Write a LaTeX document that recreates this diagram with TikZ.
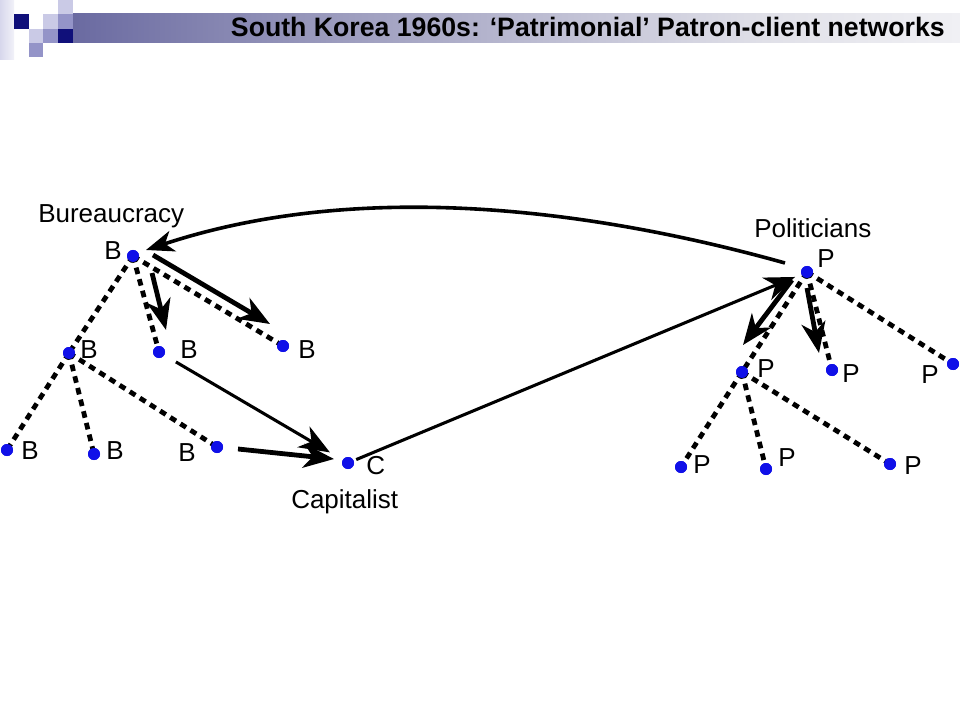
\documentclass[tikz,border=0pt]{standalone}
\usepackage{fontspec}
\setmainfont{Liberation Sans}
\usetikzlibrary{arrows.meta}
\definecolor{navy}{HTML}{1C1C78}
\definecolor{barmid}{HTML}{46468C}
\definecolor{barlight}{HTML}{9C9CBE}
\definecolor{barpale}{HTML}{E0E0E8}
\definecolor{sqdark}{HTML}{10107A}
\definecolor{sqlight}{HTML}{CACAE6}
\definecolor{sqmid}{HTML}{9494C8}
\definecolor{dotblue}{HTML}{1010E8}
\pgfdeclarehorizontalshading{titlebar}{100bp}{color(0bp)=(navy); color(14bp)=(barmid); color(40bp)=(barlight); color(64bp)=(barpale); color(85bp)=(white); color(100bp)=(white)}
\pgfdeclarehorizontalshading{leftstrip}{100bp}{color(0bp)=(sqlight); color(100bp)=(white)}
\tikzset{
  dot/.style={circle,fill=dotblue,draw=none,minimum size=9pt,inner sep=0pt},
  lbl/.style={font=\fontsize{19.5pt}{21pt}\selectfont,inner sep=0pt,anchor=base west},
  dashline/.style={line width=3.6pt,dash pattern=on 5pt off 4pt},
  bigarrow/.style={line width=3.6pt,-{Stealth[length=23pt,width=18pt,inset=7pt]}},
  thinarrow/.style={line width=2.3pt,-{Stealth[length=23pt,width=18pt,inset=7pt]}},
  curvearrow/.style={line width=2.7pt,-{Stealth[length=21pt,width=16pt,inset=6pt]}}
}
\begin{document}
\begin{tikzpicture}[x=0.75pt,y=-0.75pt]
\useasboundingbox (0,0) rectangle (960,720);
\fill[white] (0,0) rectangle (960,720);
% logo
\shade[shading=leftstrip] (0,0) rectangle (14,60);
\fill[sqdark] (14,14) rectangle (29,29);
\fill[sqlight] (43,14) rectangle (58,29);
\fill[sqlight] (58,0) rectangle (73,14);
\fill[sqmid] (58,14) rectangle (73,29);
\fill[sqlight] (29,29) rectangle (43,43);
\fill[sqmid] (43,29) rectangle (58,43);
\fill[sqdark] (58,29) rectangle (73,43);
\fill[sqmid] (29,43) rectangle (43,57);
% title bar
\shade[shading=titlebar] (73,14) rectangle (960,43);
\node[font=\bfseries\fontsize{20pt}{22pt}\selectfont,anchor=base east,inner sep=0pt] (title) at (945,37) {South Korea 1960s: ‘Patrimonial’ Patron-client networks};

% dots
\node[dot] (B0) at (133,256) {};
\node[dot] (B1) at (69,353) {};
\node[dot] (B2) at (159,352) {};
\node[dot] (B3) at (283,346) {};
\node[dot] (B4) at (7,450) {};
\node[dot] (B5) at (94,454) {};
\node[dot] (B6) at (217,447) {};
\node[dot] (C) at (348,463) {};
\node[dot] (P0) at (807,272) {};
\node[dot] (P1) at (742,372) {};
\node[dot] (P2) at (832,370) {};
\node[dot] (P3) at (953,364) {};
\node[dot] (P4) at (681,467) {};
\node[dot] (P5) at (766,469) {};
\node[dot] (P6) at (890,464) {};

% dashed tree lines
\draw[dashline] (B0.center) -- (B1.center);
\draw[dashline] (B0.center) -- (B2.center);
\draw[dashline] (B0.center) -- (B3.center);
\draw[dashline] (B1.center) -- (B4.center);
\draw[dashline] (B1.center) -- (B5.center);
\draw[dashline] (B1.center) -- (B6.center);
\draw[dashline] (P0.center) -- (P1.center);
\draw[dashline] (P0.center) -- (P2.center);
\draw[dashline] (P0.center) -- (P3.center);
\draw[dashline] (P1.center) -- (P4.center);
\draw[dashline] (P1.center) -- (P5.center);
\draw[dashline] (P1.center) -- (P6.center);

% redraw dots on top
\foreach \n in {B0,B1,B2,B3,B4,B5,B6,C,P0,P1,P2,P3,P4,P5,P6}
  \fill[dotblue] (\n.center) circle (4.5pt);

% labels
\node[lbl] (lBur) at (38,223) {Bureaucracy};
\node[lbl] (lB0) at (104,260) {B};
\node[lbl] (lB1) at (80,358) {B};
\node[lbl] (lB2) at (180,358) {B};
\node[lbl] (lB3) at (298,358) {B};
\node[lbl] (lB4) at (21,459) {B};
\node[lbl] (lB5) at (106,459) {B};
\node[lbl] (lB6) at (178,461) {B};
\node[lbl] (lC) at (366,474) {C};
\node[lbl] (lCap) at (291,508) {Capitalist};
\node[lbl] (lPol) at (754,238) {Politicians};
\node[lbl] (lP0) at (817,268) {P};
\node[lbl] (lP1) at (757,377) {P};
\node[lbl] (lP2) at (842,382) {P};
\node[lbl] (lP3) at (921,383) {P};
\node[lbl] (lP4) at (693,473) {P};
\node[lbl] (lP5) at (778,466) {P};
\node[lbl] (lP6) at (904,474) {P};

% arrow end coordinates
\coordinate (curS) at (785,263);
\coordinate (curE) at (146,250);
\coordinate (b3S) at (153,255);
\coordinate (b3E) at (270,324);
\coordinate (b2S) at (152,273);
\coordinate (b2E) at (166,330);
\coordinate (b6S) at (238,449);
\coordinate (b6E) at (334,459);
\coordinate (p1S) at (792,280);
\coordinate (p1E) at (743,345);
\coordinate (p2S) at (807,288);
\coordinate (p2E) at (819,353);

% arrows
\draw[curvearrow] (curS) .. controls (610,214) and (370,176) .. (curE);
\draw[bigarrow] (b3S) -- (b3E);
\draw[bigarrow] (b2S) -- (b2E);
\draw[bigarrow] (b6S) -- (b6E);
\draw[thinarrow,shorten <=10pt,shorten >=11pt] (B2) -- (C);
\draw[thinarrow,shorten <=2pt,shorten >=5pt] (C) -- (P0);
\draw[bigarrow] (p1S) -- (p1E);
\draw[bigarrow] (p2S) -- (p2E);
\end{tikzpicture}
\end{document}
